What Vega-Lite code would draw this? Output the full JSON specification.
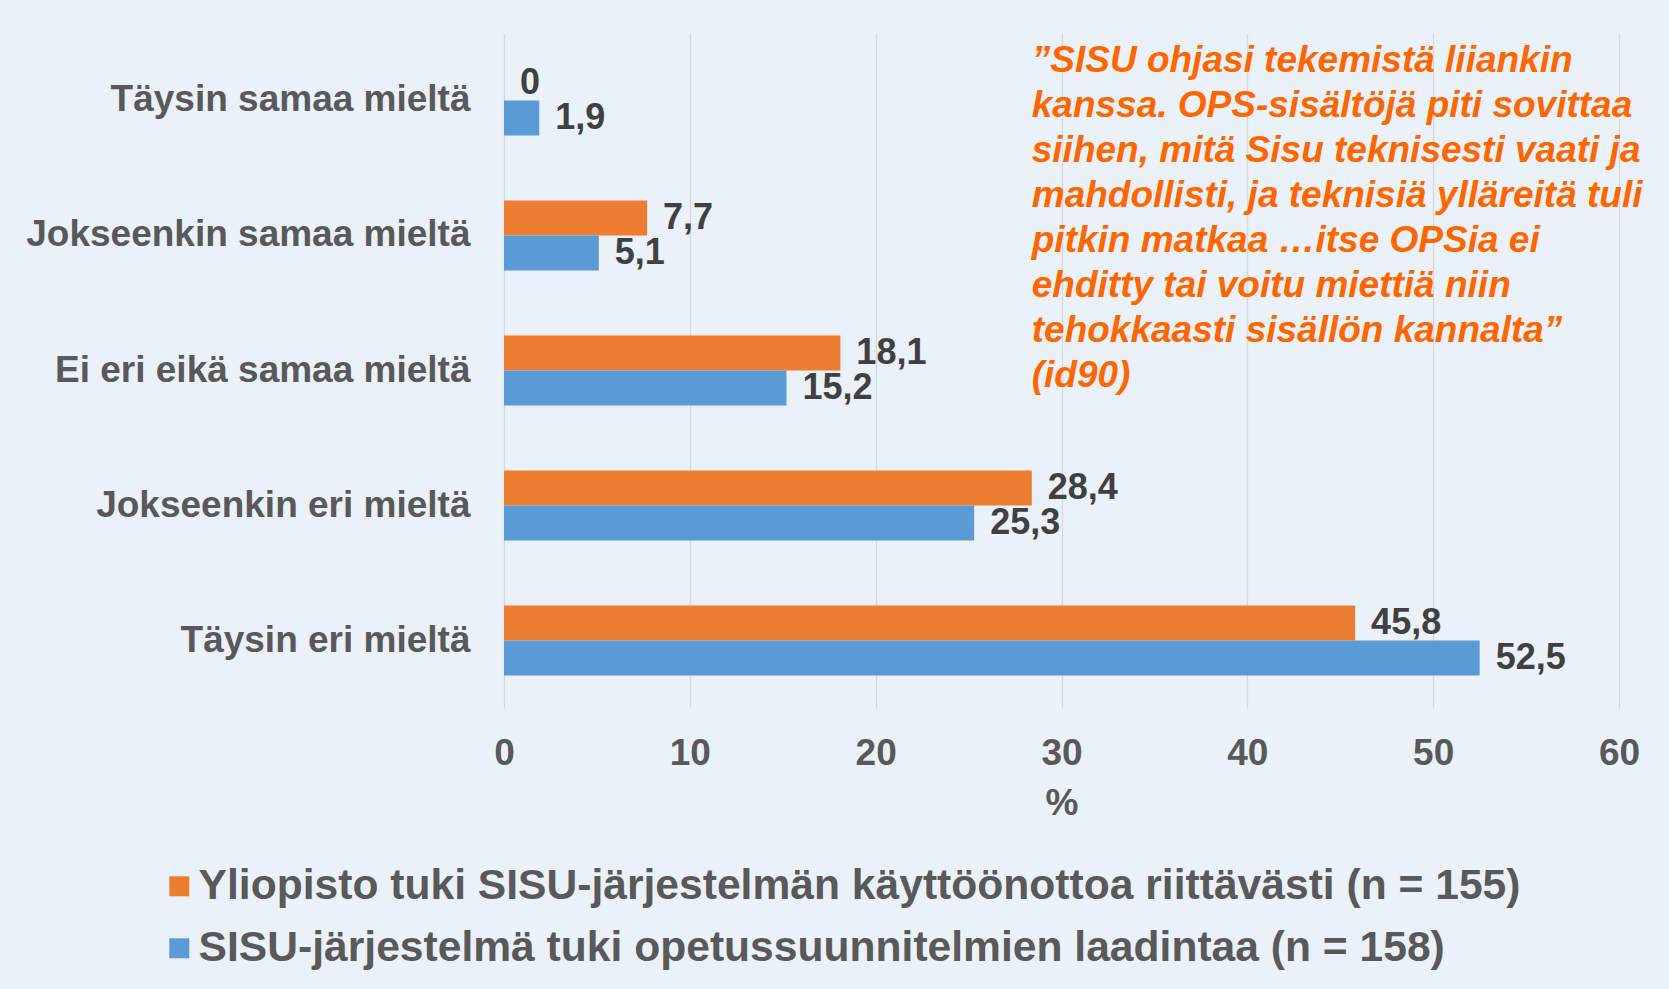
{
  "$schema": "https://vega.github.io/schema/vega-lite/v6.json",
  "width": 1115,
  "height": 675,
  "autosize": {"type": "none"},
  "padding": {"left": 504, "top": 33, "right": 50, "bottom": 281},
  "background": "#eaf1f9",
  "config": {
    "font": "Liberation Sans",
    "locale": {"number": {"decimal": ",", "thousands": " ", "grouping": [3], "currency": ["", " €"]}},
    "view": {"stroke": null}
  },
  "datasets": {
    "main": [
      {"vastaus": "Täysin samaa mieltä", "sarja": "Yliopisto tuki SISU-järjestelmän käyttöönottoa riittävästi (n = 155)", "arvo": 0},
      {"vastaus": "Täysin samaa mieltä", "sarja": "SISU-järjestelmä tuki opetussuunnitelmien laadintaa (n = 158)", "arvo": 1.9},
      {"vastaus": "Jokseenkin samaa mieltä", "sarja": "Yliopisto tuki SISU-järjestelmän käyttöönottoa riittävästi (n = 155)", "arvo": 7.7},
      {"vastaus": "Jokseenkin samaa mieltä", "sarja": "SISU-järjestelmä tuki opetussuunnitelmien laadintaa (n = 158)", "arvo": 5.1},
      {"vastaus": "Ei eri eikä samaa mieltä", "sarja": "Yliopisto tuki SISU-järjestelmän käyttöönottoa riittävästi (n = 155)", "arvo": 18.1},
      {"vastaus": "Ei eri eikä samaa mieltä", "sarja": "SISU-järjestelmä tuki opetussuunnitelmien laadintaa (n = 158)", "arvo": 15.2},
      {"vastaus": "Jokseenkin eri mieltä", "sarja": "Yliopisto tuki SISU-järjestelmän käyttöönottoa riittävästi (n = 155)", "arvo": 28.4},
      {"vastaus": "Jokseenkin eri mieltä", "sarja": "SISU-järjestelmä tuki opetussuunnitelmien laadintaa (n = 158)", "arvo": 25.3},
      {"vastaus": "Täysin eri mieltä", "sarja": "Yliopisto tuki SISU-järjestelmän käyttöönottoa riittävästi (n = 155)", "arvo": 45.8},
      {"vastaus": "Täysin eri mieltä", "sarja": "SISU-järjestelmä tuki opetussuunnitelmien laadintaa (n = 158)", "arvo": 52.5}
    ],
    "quote": [
      {"q": "”SISU ohjasi tekemistä liiankin\nkanssa. OPS-sisältöjä piti sovittaa\nsiihen, mitä Sisu teknisesti vaati ja\nmahdollisti, ja teknisiä ylläreitä tuli\npitkin matkaa …itse OPSia ei\nehditty tai voitu miettiä niin\ntehokkaasti sisällön kannalta”\n(id90)"}
    ]
  },
  "layer": [
    {
      "data": {"name": "main"},
      "mark": {"type": "bar"},
      "encoding": {
        "y": {
          "field": "vastaus", "type": "nominal",
          "sort": ["Täysin samaa mieltä", "Jokseenkin samaa mieltä", "Ei eri eikä samaa mieltä", "Jokseenkin eri mieltä", "Täysin eri mieltä"],
          "scale": {"paddingInner": 0.4815, "paddingOuter": 0.2407},
          "axis": {"title": null, "ticks": false, "domain": false, "grid": false, "labelFontSize": 37, "labelFontWeight": "bold", "labelColor": "#595959", "labelPadding": 34, "labelLimit": 800}
        },
        "x": {
          "field": "arvo", "type": "quantitative",
          "scale": {"domain": [0, 60], "nice": false},
          "axis": {"values": [0, 10, 20, 30, 40, 50, 60], "grid": true, "gridColor": "#d9d9d9", "gridWidth": 1.3, "domain": false, "ticks": false, "tickSize": 0, "labelFlush": false, "labelFontSize": 37, "labelFontWeight": "bold", "labelColor": "#595959", "labelPadding": 27, "title": "%", "titleFontSize": 37, "titleFontWeight": "bold", "titleColor": "#595959", "titlePadding": 14}
        },
        "yOffset": {"field": "sarja", "type": "nominal", "sort": ["Yliopisto tuki SISU-järjestelmän käyttöönottoa riittävästi (n = 155)", "SISU-järjestelmä tuki opetussuunnitelmien laadintaa (n = 158)"]},
        "color": {
          "field": "sarja", "type": "nominal",
          "scale": {"domain": ["Yliopisto tuki SISU-järjestelmän käyttöönottoa riittävästi (n = 155)", "SISU-järjestelmä tuki opetussuunnitelmien laadintaa (n = 158)"], "range": ["#ED7D31", "#5B9BD5"]},
          "legend": {"orient": "none", "legendX": -346, "legendY": 832, "title": null, "direction": "vertical", "symbolType": "square", "symbolSize": 400, "symbolStrokeWidth": 0, "labelFontSize": 42.6, "labelFontWeight": "bold", "labelColor": "#595959", "labelOffset": -2, "rowPadding": 19, "labelLimit": 1600}
        }
      }
    },
    {
      "data": {"name": "main"},
      "mark": {"type": "text", "align": "left", "baseline": "middle", "dx": 16, "fontSize": 36, "fontWeight": "bold", "color": "#404040"},
      "encoding": {
        "y": {"field": "vastaus", "type": "nominal", "sort": ["Täysin samaa mieltä", "Jokseenkin samaa mieltä", "Ei eri eikä samaa mieltä", "Jokseenkin eri mieltä", "Täysin eri mieltä"]},
        "x": {"field": "arvo", "type": "quantitative"},
        "yOffset": {"field": "sarja", "type": "nominal", "sort": ["Yliopisto tuki SISU-järjestelmän käyttöönottoa riittävästi (n = 155)", "SISU-järjestelmä tuki opetussuunnitelmien laadintaa (n = 158)"]},
        "text": {"field": "arvo", "type": "quantitative", "format": ".1~f"}
      }
    },
    {
      "data": {"name": "quote"},
      "mark": {"type": "text", "align": "left", "baseline": "top", "dy": -57, "fontSize": 37, "fontWeight": "bold", "fontStyle": "italic", "color": "#FF6600", "lineBreak": "\n", "lineHeight": 45},
      "encoding": {
        "x": {"datum": 28.4, "type": "quantitative"},
        "y": {"datum": "Täysin samaa mieltä", "type": "nominal"},
        "text": {"field": "q"}
      }
    }
  ]
}
